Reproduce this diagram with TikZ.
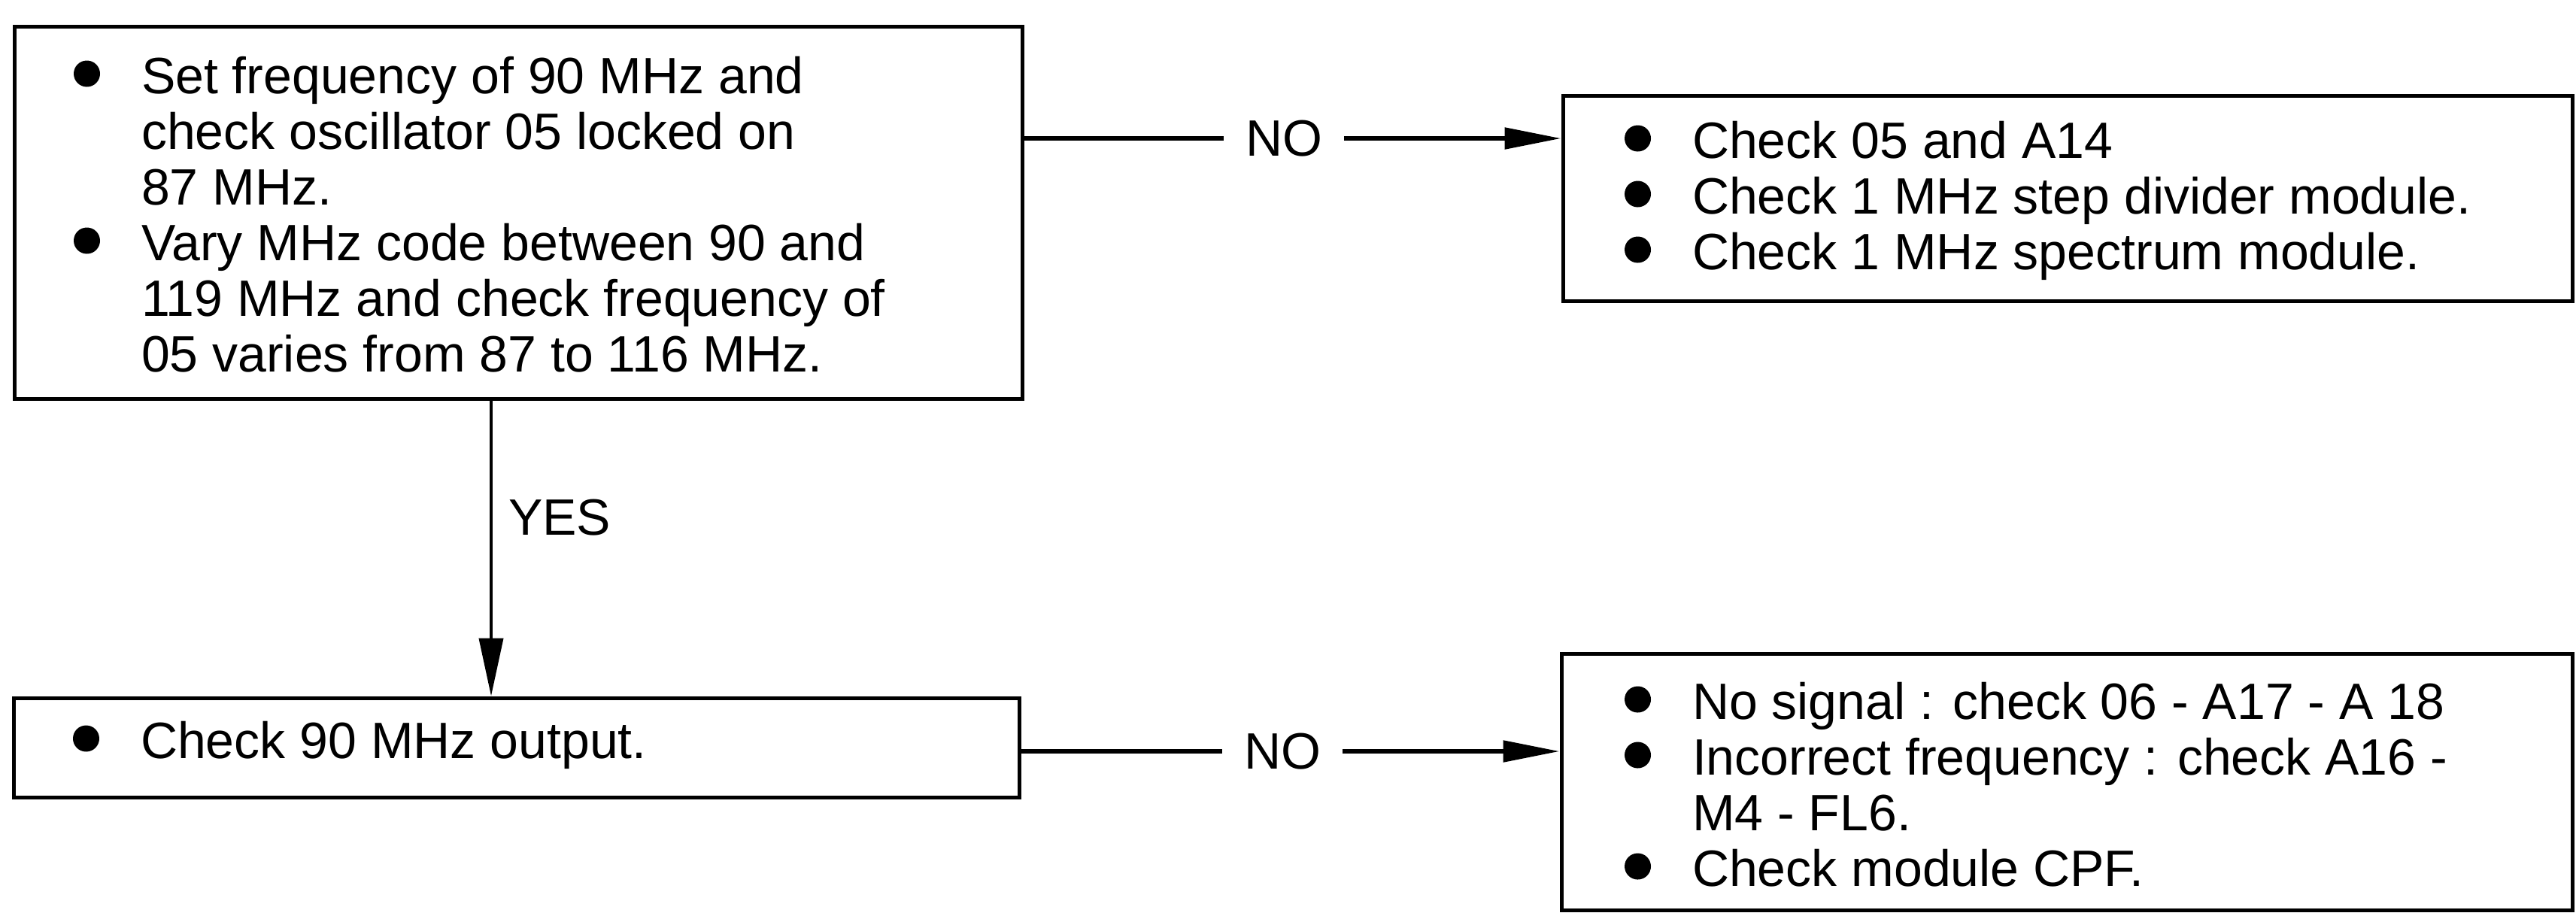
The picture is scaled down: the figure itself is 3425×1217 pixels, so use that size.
\documentclass[tikz,border=0pt]{standalone}
\usepackage{fontspec}
\setmainfont{Liberation Sans}
\usetikzlibrary{arrows.meta,fit}
\newcommand\bul{\tikz[baseline=-5.2pt]\fill (3.5pt,0pt) circle (3.5pt);}
\begin{document}
\begin{tikzpicture}[x=0.2pt,y=-0.2pt,
  box/.style={draw, line width=1pt, inner sep=0pt},
  txt/.style={anchor=base west, inner sep=0pt, font=\fontsize{13.6pt}{14.8pt}\selectfont},
  lbl/.style={inner xsep=5.6pt, inner ysep=0pt, font=\fontsize{13.6pt}{14.8pt}\selectfont},
  conn/.style={line width=1.1pt},
  arr/.style={-{Triangle[length=15pt,width=5.6pt]}},
  varr/.style={-{Triangle[length=15.4pt,width=6.4pt]}}
]
\path[use as bounding box, fill=white] (0,0) rectangle (3425,1217);

% boxes
\node[box, fit={(19,35) (1359,530)}] (b1) {};
\node[box, fit={(2078,127) (3420,400)}] (b2) {};
\node[box, fit={(18,928) (1355,1060)}] (b3) {};
\node[box, fit={(2076,869) (3420,1210)}] (b4) {};

% texts
\node[txt] (t1) at (97,124) {\begin{tabular}[t]{@{}p{18pt}@{}l@{}}
\bul & Set frequency of 90 MHz and\\
     & check oscillator 05 locked on\\
     & 87 MHz.\\
\bul & Vary MHz code between 90 and\\
     & 119 MHz and check frequency of\\
     & 05 varies from 87 to 116 MHz.
\end{tabular}};

\node[txt] (t2) at (2159,210) {\begin{tabular}[t]{@{}p{18pt}@{}l@{}}
\bul & Check 05 and A14\\
\bul & Check 1 MHz step divider module.\\
\bul & Check 1 MHz spectrum module.
\end{tabular}};

\node[txt] (t3) at (96,1008) {\begin{tabular}[t]{@{}p{18pt}@{}l@{}}
\bul & Check 90 MHz output.
\end{tabular}};

\node[txt] (t4) at (2159,956) {\begin{tabular}[t]{@{}p{18pt}@{}l@{}}
\bul & No signal : check 06 - A17 - A 18\\
\bul & Incorrect frequency : check A16 -\\
     & M4 - FL6.\\
\bul & Check module CPF.
\end{tabular}};

% NO connectors
\node[lbl] (no1) at (1707,184) {NO};
\node[lbl] (no2) at (1705,999) {NO};
\draw[conn] (no1 -| b1.east) -- (no1.west);
\draw[conn, arr] (no1.east) -- (no1 -| b2.west);
\draw[conn] (no2 -| b3.east) -- (no2.west);
\draw[conn, arr] (no2.east) -- (no2 -| b4.west);

% YES connector
\coordinate (yx) at (653,0);
\draw[line width=0.8pt, varr] (yx |- b1.south) -- (yx |- b3.north);
\node[lbl, anchor=west, inner sep=0pt] (yes) at (675,688) {YES};
\end{tikzpicture}
\end{document}
